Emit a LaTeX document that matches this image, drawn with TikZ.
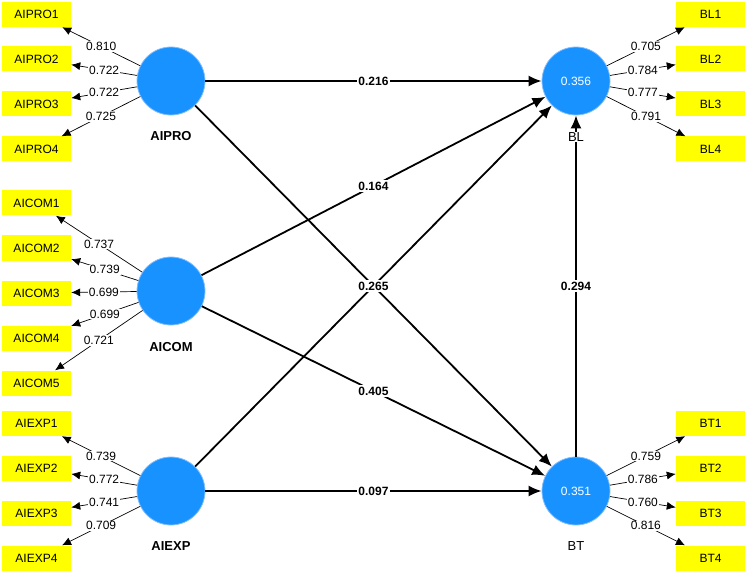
\documentclass[tikz,border=0pt]{standalone}
\usepackage{fontspec}
\setmainfont{Liberation Sans}
\usetikzlibrary{arrows.meta}
\definecolor{lvblue}{RGB}{24,146,255}
\definecolor{lvedge}{RGB}{130,190,255}
\definecolor{indy}{RGB}{255,255,0}
\begin{document}
\begin{tikzpicture}[x=1pt,y=-1pt,
 lv/.style={circle, fill=lvblue, draw=lvedge, line width=0.8pt, minimum size=68pt, inner sep=0pt, text=white, font=\fontsize{12}{14}\selectfont},
 indbox/.style={rectangle, fill=indy, minimum width=69pt, minimum height=25pt, inner sep=0pt, font=\fontsize{12}{14}\selectfont},
 ldarrow/.style={-{Latex[length=9pt,width=8pt]}, line width=0.7pt},
 starrow/.style={-{Latex[length=13pt,width=11pt]}, line width=1.8pt},
 lw/.style={fill=white, inner sep=1pt, font=\fontsize{12}{14}\selectfont},
 pw/.style={fill=white, inner sep=1.5pt, font=\bfseries\fontsize{12}{14}\selectfont},
 lvname/.style={fill=white, inner sep=1pt, font=\bfseries\fontsize{13}{15}\selectfont},
 lvnamer/.style={fill=white, inner sep=1pt, font=\fontsize{13}{15}\selectfont}
]
\useasboundingbox (0,0) rectangle (747,572);
% latent variables
\node[lv] (AIPRO) at (171,81) {};
\node[lv] (AICOM) at (171,291) {};
\node[lv] (AIEXP) at (171,491) {};
\node[lv] (BL) at (576,81) {0.356};
\node[lv] (BT) at (576,491) {0.351};
% indicators
\node[indbox] (AIPRO1) at (36.5,14.5) {AIPRO1};
\node[indbox] (AIPRO2) at (36.5,59) {AIPRO2};
\node[indbox] (AIPRO3) at (36.5,104) {AIPRO3};
\node[indbox] (AIPRO4) at (36.5,149) {AIPRO4};
\node[indbox] (AICOM1) at (36.5,203) {AICOM1};
\node[indbox] (AICOM2) at (36.5,248) {AICOM2};
\node[indbox] (AICOM3) at (36.5,293) {AICOM3};
\node[indbox] (AICOM4) at (36.5,338) {AICOM4};
\node[indbox] (AICOM5) at (36.5,383) {AICOM5};
\node[indbox] (AIEXP1) at (36.5,423.5) {AIEXP1};
\node[indbox] (AIEXP2) at (36.5,468) {AIEXP2};
\node[indbox] (AIEXP3) at (36.5,513) {AIEXP3};
\node[indbox] (AIEXP4) at (36.5,558) {AIEXP4};
\node[indbox] (BL1) at (710.5,14.5) {BL1};
\node[indbox] (BL2) at (710.5,59) {BL2};
\node[indbox] (BL3) at (710.5,104) {BL3};
\node[indbox] (BL4) at (710.5,149) {BL4};
\node[indbox] (BT1) at (710.5,423.5) {BT1};
\node[indbox] (BT2) at (710.5,468) {BT2};
\node[indbox] (BT3) at (710.5,513) {BT3};
\node[indbox] (BT4) at (710.5,558) {BT4};
% loadings
\draw[ldarrow] (AIPRO) -- node[lw]{0.810} (AIPRO1);
\draw[ldarrow] (AIPRO) -- node[lw]{0.722} (AIPRO2);
\draw[ldarrow] (AIPRO) -- node[lw]{0.722} (AIPRO3);
\draw[ldarrow] (AIPRO) -- node[lw]{0.725} (AIPRO4);
\draw[ldarrow] (AICOM) -- node[lw]{0.737} (AICOM1);
\draw[ldarrow] (AICOM) -- node[lw]{0.739} (AICOM2);
\draw[ldarrow] (AICOM) -- node[lw]{0.699} (AICOM3);
\draw[ldarrow] (AICOM) -- node[lw]{0.699} (AICOM4);
\draw[ldarrow] (AICOM) -- node[lw]{0.721} (AICOM5);
\draw[ldarrow] (AIEXP) -- node[lw]{0.739} (AIEXP1);
\draw[ldarrow] (AIEXP) -- node[lw]{0.772} (AIEXP2);
\draw[ldarrow] (AIEXP) -- node[lw]{0.741} (AIEXP3);
\draw[ldarrow] (AIEXP) -- node[lw]{0.709} (AIEXP4);
\draw[ldarrow] (BL) -- node[lw]{0.705} (BL1);
\draw[ldarrow] (BL) -- node[lw]{0.784} (BL2);
\draw[ldarrow] (BL) -- node[lw]{0.777} (BL3);
\draw[ldarrow] (BL) -- node[lw]{0.791} (BL4);
\draw[ldarrow] (BT) -- node[lw]{0.759} (BT1);
\draw[ldarrow] (BT) -- node[lw]{0.786} (BT2);
\draw[ldarrow] (BT) -- node[lw]{0.760} (BT3);
\draw[ldarrow] (BT) -- node[lw]{0.816} (BT4);
% structural paths
\draw[starrow] (AIPRO) -- node[pw]{0.216} (BL);
\draw[starrow] (AICOM) -- node[pw]{0.164} (BL);
\draw[starrow] (AIEXP) -- (BL);
\draw[starrow] (AIPRO) -- node[pw]{0.265} (BT);
\draw[starrow] (AICOM) -- node[pw]{0.405} (BT);
\draw[starrow] (AIEXP) -- node[pw]{0.097} (BT);
\draw[starrow] (BT) -- node[pw]{0.294} (BL);
% names
\node[lvname] (nAIPRO) at (171,136) {AIPRO};
\node[lvname] (nAICOM) at (171,347) {AICOM};
\node[lvname] (nAIEXP) at (171,546) {AIEXP};
\node[lvnamer] (nBL) at (576,137) {BL};
\node[lvnamer] (nBT) at (576,546) {BT};
\end{tikzpicture}
\end{document}
